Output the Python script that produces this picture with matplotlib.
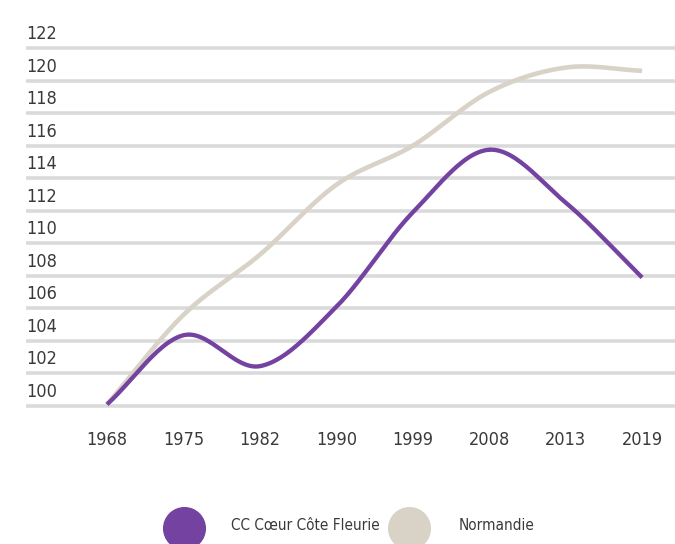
import numpy as np
import matplotlib
matplotlib.use("Agg")
import matplotlib.pyplot as plt
from matplotlib.lines import Line2D
import matplotlib.transforms as mtransforms

years = ["1968", "1975", "1982", "1990", "1999", "2008", "2013", "2019"]
coeur = [100.1, 104.35, 102.45, 106.1, 111.9, 115.75, 112.5, 107.9]
normandie = [100.1, 105.6, 109.3, 113.6, 116.0, 119.3, 120.8, 120.6]
y_ticks = list(range(100, 123, 2))
legend_labels = ["CC Cœur Côte Fleurie", "Normandie"]

PURPLE = "#7442a0"
BEIGE = "#d9d3c7"
GRID = "#dadada"
TEXT = "#3a3a3a"

plt.rcParams["font.family"] = ["DejaVu Sans"]
plt.rcParams["font.stretch"] = "condensed"


def smooth(xs, ys, n=30):
    # Catmull-Rom curve through the points, for a spline-like look
    xs = np.asarray(xs, float)
    ys = np.asarray(ys, float)
    px = np.concatenate([[2 * xs[0] - xs[1]], xs, [2 * xs[-1] - xs[-2]]])
    py = np.concatenate([[2 * ys[0] - ys[1]], ys, [2 * ys[-1] - ys[-2]]])
    out_x, out_y = [], []
    t = np.linspace(0, 1, n)
    for i in range(1, len(px) - 2):
        for p, out in ((px, out_x), (py, out_y)):
            p0, p1, p2, p3 = p[i - 1], p[i], p[i + 1], p[i + 2]
            out.extend(0.5 * ((2 * p1) + (-p0 + p2) * t
                              + (2 * p0 - 5 * p1 + 4 * p2 - p3) * t ** 2
                              + (-p0 + 3 * p1 - 3 * p2 + p3) * t ** 3))
    return np.array(out_x), np.array(out_y)


fig = plt.figure(figsize=(6.75, 5.44), dpi=100)
ax = fig.add_axes([26 / 675, 1 - 422.3 / 544, 1 - 26 / 675, (422.3 - 39.9) / 544])

x = np.arange(len(years))
ax.set_xlim(-1.06, 7.43)
ax.set_ylim(99, 122.5)

for v in y_ticks:
    ax.axhline(v, color=GRID, lw=2.6, zorder=0)

trans = mtransforms.blended_transform_factory(ax.transAxes, ax.transData)
offset = mtransforms.ScaledTranslation(0, 5 / 100, fig.dpi_scale_trans)
for v in y_ticks:
    ax.text(0, v, str(v), transform=trans + offset, ha="left", va="bottom",
            fontsize=13, color=TEXT)

sx, sy = smooth(x, normandie)
ax.plot(sx, sy, color=BEIGE, lw=3.3, solid_capstyle="butt")
sx, sy = smooth(x, coeur)
ax.plot(sx, sy, color=PURPLE, lw=3.1, solid_capstyle="butt")

ax.set_xticks(x)
ax.set_xticklabels(years, fontsize=13, color=TEXT)
ax.tick_params(axis="x", length=0, pad=6)
ax.set_yticks([])
for s in ax.spines.values():
    s.set_visible(False)

# legend drawn by hand at the bottom
for cx, col, lab, tx in [(184, PURPLE, legend_labels[0], 231),
                         (409, BEIGE, legend_labels[1], 459)]:
    fig.add_artist(Line2D([cx / 675], [1 - 528 / 544], transform=fig.transFigure,
                          marker="o", ls="", ms=30, color=col))
    fig.text(tx / 675, 1 - 525 / 544, lab, ha="left", va="center",
             fontsize=11, color=TEXT)

fig.savefig("out.png", dpi=100)
